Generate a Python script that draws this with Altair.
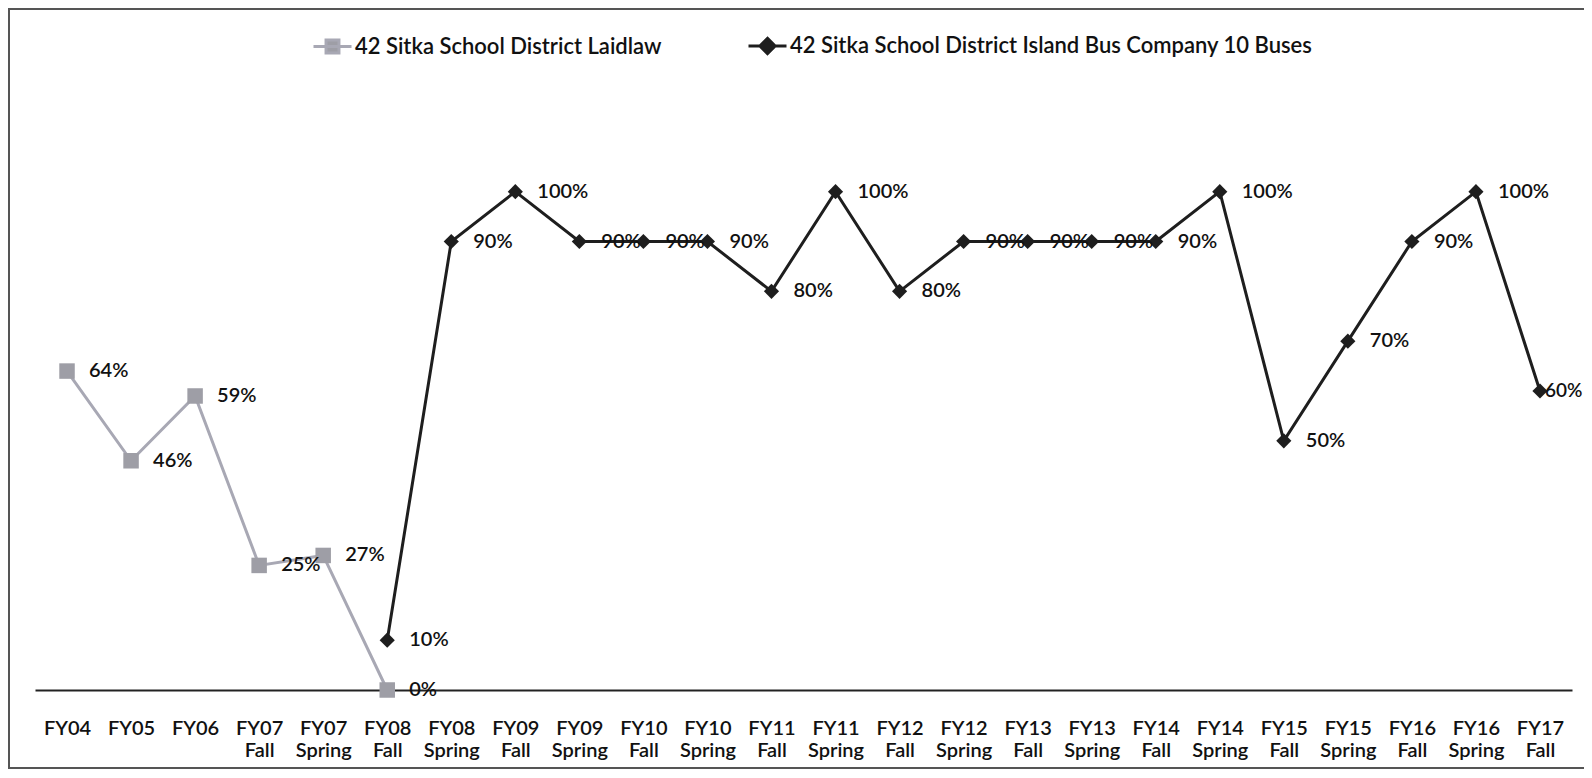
import altair as alt
import pandas as pd

categories = ["FY04", "FY05", "FY06", "FY07 Fall", "FY07 Spring", "FY08 Fall",
              "FY08 Spring", "FY09 Fall", "FY09 Spring", "FY10 Fall", "FY10 Spring",
              "FY11 Fall", "FY11 Spring", "FY12 Fall", "FY12 Spring", "FY13 Fall",
              "FY13 Spring", "FY14 Fall", "FY14 Spring", "FY15 Fall", "FY15 Spring",
              "FY16 Fall", "FY16 Spring", "FY17 Fall"]
series_names = ["42 Sitka School District Laidlaw",
                "42 Sitka School District Island Bus Company 10 Buses"]
laidlaw = [64, 46, 59, 25, 27, 0] + [None] * 18
island = [None] * 5 + [10, 90, 100, 90, 90, 90, 80, 100, 80, 90, 90, 90, 90,
                       100, 50, 70, 90, 100, 60]

rows = []
for name, vals in zip(series_names, [laidlaw, island]):
    for i, (c, v) in enumerate(zip(categories, vals)):
        if v is not None:
            rows.append({"cat": c, "series": name, "value": v, "label": f"{v}%",
                         "last": i == len(categories) - 1})
df = pd.DataFrame(rows)

GRAY = "#a8a8b4"
GRAY_MK = "#9e9ea6"
BLACK = "#1e1e1e"
FONT = "Lato"
W = 600

base = alt.Chart(df).encode(
    x=alt.X("cat:N", sort=categories,
            scale=alt.Scale(type="point", padding=0.5),
            axis=alt.Axis(title=None, labelAngle=0, ticks=False, grid=False,
                          domainColor="#222", domainWidth=2,
                          labelExpr="split(datum.label, ' ')",
                          labelFont=FONT, labelFontSize=20, labelFontWeight=W,
                          labelColor="#111",
                          labelPadding=28, labelLineHeight=22, labelFlush=False,
                          labelOverlap=False)),
    y=alt.Y("value:Q", scale=alt.Scale(domain=[0, 120]), axis=None),
)

lai = base.transform_filter(alt.datum.series == series_names[0])
isl = base.transform_filter(alt.datum.series == series_names[1])

line_l = lai.mark_line(color=GRAY, strokeWidth=3)
line_i = isl.mark_line(color=BLACK, strokeWidth=3)
pt_l = lai.mark_point(shape="square", filled=True, color=GRAY_MK, size=240, opacity=1)
pt_i = isl.mark_point(shape="diamond", filled=True, color=BLACK, size=230, opacity=1)

labels = base.transform_filter("!datum.last").mark_text(
    align="left", baseline="middle", dx=22, font=FONT, fontSize=20,
    fontWeight=W, color="#111").encode(text="label:N")
labels_last = base.transform_filter("datum.last").mark_text(
    align="left", baseline="middle", dx=5, font=FONT, fontSize=19,
    fontWeight=W, color="#111").encode(text="label:N")

legend_paths = [
    "M-1,0L1,0M-0.34,-0.34L0.34,-0.34L0.34,0.34L-0.34,0.34Z",
    "M-1,0L1,0M0,-0.4L0.4,0L0,0.4L-0.4,0Z",
]
leg_common = dict(title=None, orient="none", direction="horizontal",
                  legendX=277, legendY=-67, labelLimit=0)
legend_layer = base.transform_filter("false").mark_point(filled=True, opacity=1).encode(
    color=alt.Color("series:N",
                    scale=alt.Scale(domain=series_names, range=[GRAY_MK, BLACK]),
                    legend=alt.Legend(labelFont=FONT, labelFontSize=22,
                                      labelFontWeight=W, labelColor="#111",
                                      symbolSize=1444, symbolStrokeWidth=3,
                                      columnPadding=80, labelOffset=2, **leg_common)),
    stroke=alt.Stroke("series:N",
                      scale=alt.Scale(domain=series_names, range=[GRAY, BLACK]),
                      legend=alt.Legend(**leg_common)),
    shape=alt.Shape("series:N",
                    scale=alt.Scale(domain=series_names, range=legend_paths),
                    legend=alt.Legend(**leg_common)),
)

frame = alt.Chart(pd.DataFrame({"k": [0]})).mark_rect(
    fillOpacity=0, stroke="#555", strokeWidth=2
).encode(x=alt.value(-26), x2=alt.value(1570), y=alt.value(-83), y2=alt.value(676))

chart = alt.layer(frame, line_l, line_i, pt_l, pt_i, labels, labels_last,
                  legend_layer).properties(
    width=1537, height=598,
    autosize=alt.AutoSizeParams(type="none"),
    padding={"left": 27, "top": 84, "right": 12, "bottom": 80},
).configure_view(strokeWidth=0)

chart.save("out.html", embed_options={"renderer": "svg", "actions": False})
